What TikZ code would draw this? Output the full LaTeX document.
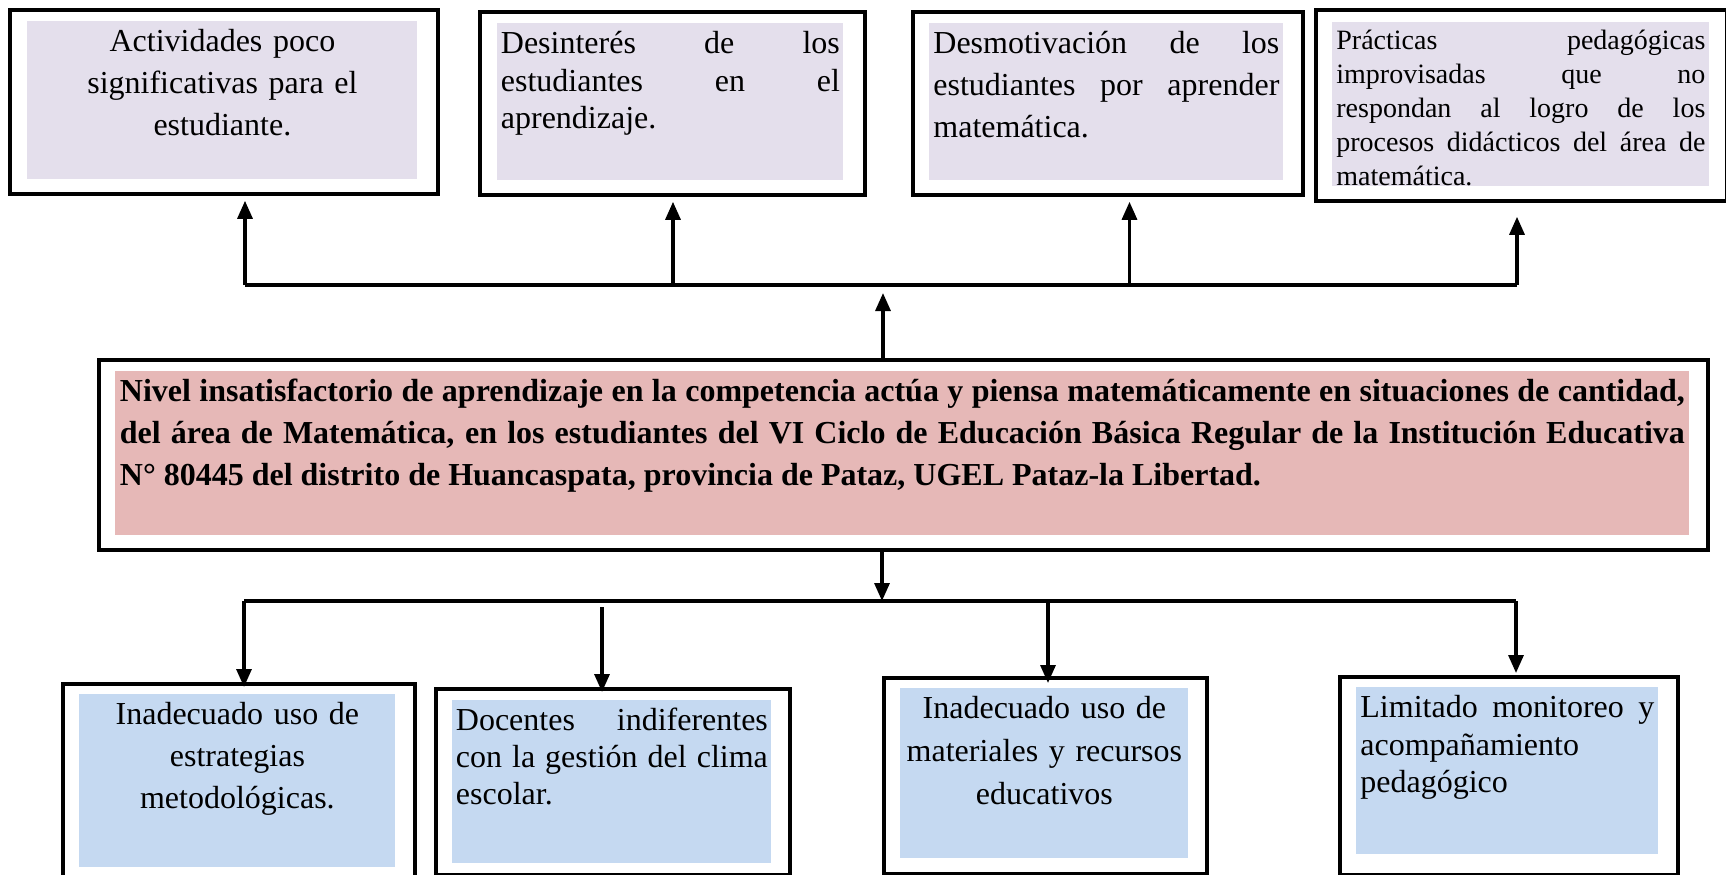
\documentclass[tikz,border=0pt]{standalone}
\usepackage{fontspec}
\setmainfont{Liberation Serif}
\usetikzlibrary{arrows.meta}

\definecolor{lila}{RGB}{228,223,236}
\definecolor{rosa}{RGB}{230,184,183}
\definecolor{celeste}{RGB}{197,217,241}

\begin{document}
\begin{tikzpicture}
    [
    x=0.5pt, y=-0.5pt,
    marco/.style={draw, line width=1.9pt, anchor=north west, inner sep=0pt},
    relleno/.style={anchor=north west, inner sep=0pt},
    texto/.style={anchor=north, inner sep=2pt, yshift=-2pt, align=justify, font=\fontsize{16}{20.9}\selectfont},
    linea/.style={line width=1.6pt},
    flecha/.style={linea, -{Triangle[length=9pt, width=7.5pt]}},
    ]

    \useasboundingbox (0,0) rectangle (1726,874);
    \fill[white] (0,0) rectangle (1726,874);
    \clip (0,0) rectangle (1726,874);

    % efectos
    \node[marco, minimum width=214pt, minimum height=92pt] (ef1) at (8,8) {};
    \node[relleno, fill=lila, minimum width=195pt, minimum height=79pt] (ef1f) at (27,21) {};
    \node[texto, text width=191pt, align=center] (ef1t) at (ef1f.north)
    {Actividades poco\\ significativas para el\\ estudiante.};

    \node[marco, minimum width=192.5pt, minimum height=91.5pt] (ef2) at (478,10) {};
    \node[relleno, fill=lila, minimum width=173pt, minimum height=78.5pt] (ef2f) at (497,23) {};
    \node[texto, text width=169.5pt, font=\fontsize{16}{18.7}\selectfont] (ef2t) at (ef2f.north)
    {Desinterés de los\linebreak estudiantes en el\linebreak aprendizaje.};

    \node[marco, minimum width=195pt, minimum height=91.5pt] (ef3) at (911,10) {};
    \node[relleno, fill=lila, minimum width=177pt, minimum height=78.5pt] (ef3f) at (929,23) {};
    \node[texto, text width=173pt] (ef3t) at (ef3f.north)
    {Desmotivación de los\linebreak estudiantes por aprender\linebreak matemática.};

    \node[marco, minimum width=205.5pt, minimum height=95.5pt] (ef4) at (1314,8) {};
    \node[relleno, fill=lila, minimum width=188.5pt, minimum height=82pt] (ef4f) at (1332,22) {};
    \node[texto, text width=184.5pt, font=\fontsize{14}{16.9}\selectfont] (ef4t) at (ef4f.north)
    {Prácticas pedagógicas\linebreak improvisadas que no\linebreak respondan al logro de los\linebreak procesos didácticos del área de\linebreak matemática.};

    % problema
    \node[marco, minimum width=804.5pt, minimum height=95pt] (prob) at (97,358) {};
    \node[relleno, fill=rosa, minimum width=787pt, minimum height=82pt] (probf) at (115,371) {};
    \node[texto, text width=782.5pt, font=\fontsize{16}{20.9}\selectfont\bfseries] (probt) at (probf.north)
    {Nivel insatisfactorio de aprendizaje en la competencia actúa y piensa matemáticamente en situaciones de cantidad,\linebreak del área de Matemática, en los estudiantes del VI Ciclo de Educación Básica Regular de la Institución Educativa\linebreak N° 80445 del distrito de Huancaspata, provincia de Pataz, UGEL Pataz-la Libertad.};

    % causas
    \node[marco, minimum width=176pt, minimum height=99pt] (ca1) at (61,682) {};
    \node[relleno, fill=celeste, minimum width=158pt, minimum height=86.5pt] (ca1f) at (79,694) {};
    \node[texto, text width=154pt, align=center] (ca1t) at (ca1f.north)
    {Inadecuado uso de\\ estrategias\\ metodológicas.};

    \node[marco, minimum width=177pt, minimum height=93pt] (ca2) at (434,687) {};
    \node[relleno, fill=celeste, minimum width=159.5pt, minimum height=81.5pt] (ca2f) at (452,700) {};
    \node[texto, text width=156pt, font=\fontsize{16}{18.4}\selectfont] (ca2t) at (ca2f.north)
    {Docentes indiferentes\linebreak con la gestión del clima\linebreak escolar.};

    \node[marco, minimum width=161.5pt, minimum height=98pt] (ca3) at (882,676) {};
    \node[relleno, fill=celeste, minimum width=144pt, minimum height=85pt] (ca3f) at (900,688) {};
    \node[texto, text width=140pt, align=center, font=\fontsize{16}{21.5}\selectfont] (ca3t) at (ca3f.north)
    {Inadecuado uso de\\ materiales y recursos\\ educativos};

    \node[marco, minimum width=169pt, minimum height=99pt] (ca4) at (1338,675) {};
    \node[relleno, fill=celeste, minimum width=151pt, minimum height=83.5pt] (ca4f) at (1356,687) {};
    \node[texto, text width=147pt, font=\fontsize{16}{18.7}\selectfont] (ca4t) at (ca4f.north)
    {Limitado monitoreo y\linebreak acompañamiento\linebreak pedagógico};

    % conectores de arriba
    \coordinate (bs1) at (245,285);
    \coordinate (bs2) at (673,285);
    \coordinate (bs3) at (1129.5,285);
    \coordinate (bs4) at (1517,285);
    \coordinate (pu) at (883,293);
    \draw[linea] (bs1) -- (bs4);
    \draw[flecha, shorten >=2.5pt] (bs1) -- (bs1 |- ef1.south);
    \draw[flecha, shorten >=2.5pt] (bs2) -- (bs2 |- ef2.south);
    \draw[flecha, shorten >=2.5pt] (bs3) -- (bs3 |- ef3.south);
    \draw[flecha, shorten >=7pt] (bs4) -- (bs4 |- ef4.south);
    \draw[flecha] (pu |- prob.north) -- (pu);

    % conectores de abajo
    \coordinate (bi1) at (244,601);
    \coordinate (bi2) at (602,607);
    \coordinate (bi3) at (1048,601);
    \coordinate (bi4) at (1516,601);
    \coordinate (pd) at (882,601);
    \draw[linea] (bi1) -- (bi4);
    \draw[flecha] (pd |- prob.south) -- (pd);
    \draw[flecha, shorten >=-2.5pt] (bi1) -- (bi1 |- ca1.north);
    \draw[flecha, shorten >=-2.5pt] (bi2) -- (bi2 |- ca2.north);
    \draw[flecha, shorten >=-3.5pt] (bi3) -- (bi3 |- ca3.north);
    \draw[flecha, shorten >=1pt] (bi4) -- (bi4 |- ca4.north);
\end{tikzpicture}
\end{document}
